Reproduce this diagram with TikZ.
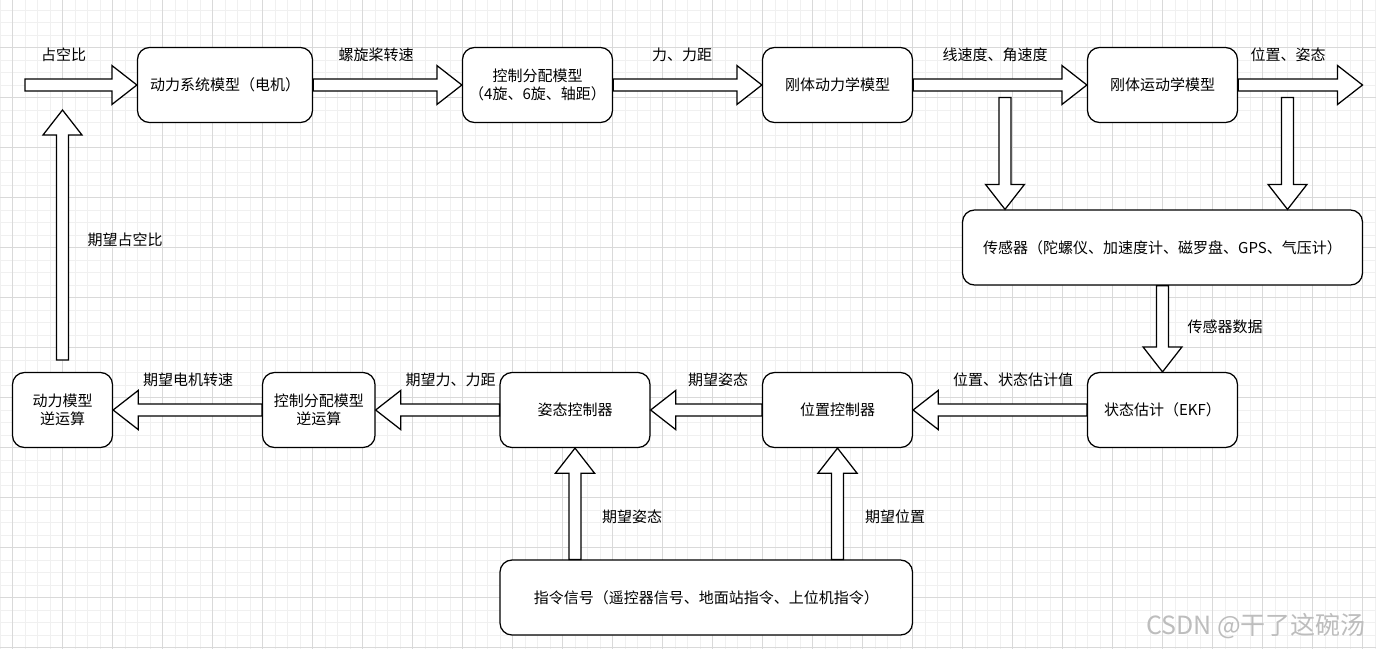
\documentclass[tikz,border=0pt]{standalone}
\usepackage{fontspec}
\setmainfont{Noto Sans CJK SC}
\usetikzlibrary{calc}
\definecolor{gridminor}{HTML}{F0F0F0}
\definecolor{gridmajor}{HTML}{D9D9D9}
\definecolor{wmgray}{HTML}{BDBDBD}
\begin{document}
\begin{tikzpicture}[x=1pt,y=-1pt,
  box/.style={draw=black, fill=white, line width=1.25pt, rounded corners=12pt,
    inner sep=0pt, align=center, font=\fontsize{15}{18.5}\selectfont},
  lbl/.style={inner sep=0pt, font=\fontsize{15}{18}\selectfont},
  blockarrow/.style={draw=black, fill=white, line width=1.25pt, line join=miter,
    to path={let \p1=(\tikztostart), \p2=(\tikztotarget), \p3=($(\p2)!25pt!(\p1)$) in
      ($(\p1)!6pt!90:(\p2)$) -- ($(\p3)!6pt!-90:(\p1)$) -- ($(\p3)!19.5pt!-90:(\p1)$)
      -- (\p2) -- ($(\p3)!19.5pt!90:(\p1)$) -- ($(\p3)!6pt!90:(\p1)$)
      -- ($(\p1)!6pt!-90:(\p2)$) -- cycle}}]
\useasboundingbox (0,0) rectangle (1376,649);
\fill[white] (0,0) rectangle (1376,649);
% grid
\foreach \k in {0,...,110} {\draw[gridminor, line width=1pt] ({12.5*\k},0) -- ({12.5*\k},649);}
\foreach \k in {0,...,51} {\draw[gridminor, line width=1pt] (0,{10+12.5*\k}) -- (1376,{10+12.5*\k});}
\foreach \k in {0,...,27} {\draw[gridmajor, line width=1pt] ({12.5+50*\k},0) -- ({12.5+50*\k},649);}
\foreach \k in {1,...,13} {\draw[gridmajor, line width=1pt] (0,{-2.5+50*\k}) -- (1376,{-2.5+50*\k});}

% boxes
\node[box, minimum width=175pt, minimum height=75pt] (m1) at (225,85) {动力系统模型（电机）};
\node[box, minimum width=150pt, minimum height=75pt] (m2) at (537.5,85) {控制分配模型\\（4旋、6旋、轴距）};
\node[box, minimum width=150pt, minimum height=75pt] (m3) at (837.5,85) {刚体动力学模型};
\node[box, minimum width=150pt, minimum height=75pt] (m4) at (1162.5,85) {刚体运动学模型};
\node[box, minimum width=400pt, minimum height=75pt] (sensor) at (1162.5,247.5) {传感器（陀螺仪、加速度计、磁罗盘、GPS、气压计）};
\node[box, minimum width=150pt, minimum height=75pt] (ekf) at (1162.5,410) {状态估计（EKF）};
\node[box, minimum width=150pt, minimum height=75pt] (pos) at (837.5,410) {位置控制器};
\node[box, minimum width=150pt, minimum height=75pt] (att) at (575,410) {姿态控制器};
\node[box, minimum width=112.5pt, minimum height=75pt] (inv2) at (318.75,410) {控制分配模型\\逆运算};
\node[box, minimum width=100pt, minimum height=75pt] (inv1) at (62.5,410) {动力模型\\逆运算};
\node[box, minimum width=412.5pt, minimum height=75pt] (cmd) at (706.25,597.5) {指令信号（遥控器信号、地面站指令、上位机指令）};

% free ends
\coordinate (in) at (25,85);
\coordinate (out) at (1362.5,85);
\coordinate (d1) at (1005,97.5);
\coordinate (d2) at (1287.5,97.5);
\coordinate (u0) at (62.5,360);
\coordinate (u1) at (62.5,110);

% block arrows
\draw[blockarrow] (in) to (m1.west);
\draw[blockarrow] (m1.east) to (m2.west);
\draw[blockarrow] (m2.east) to (m3.west);
\draw[blockarrow] (m3.east) to (m4.west);
\draw[blockarrow] (m4.east) to (out);
\draw[blockarrow] (d1) to (d1 |- sensor.north);
\draw[blockarrow] (d2) to (d2 |- sensor.north);
\draw[blockarrow] (ekf.north |- sensor.south) to (ekf.north);
\draw[blockarrow] (ekf.west) to (pos.east);
\draw[blockarrow] (pos.west) to (att.east);
\draw[blockarrow] (att.west) to (inv2.east);
\draw[blockarrow] (inv2.west) to (inv1.east);
\draw[blockarrow] (u0) to (u1);
\draw[blockarrow] (att.south |- cmd.north) to (att.south);
\draw[blockarrow] (pos.south |- cmd.north) to (pos.south);

% labels
\node[lbl] (l1) at (63.5,55) {占空比};
\node[lbl] (l2) at (376,55) {螺旋桨转速};
\node[lbl] (l3) at (682,55) {力、力距};
\node[lbl] (l4) at (995,55) {线速度、角速度};
\node[lbl] (l5) at (1288,55) {位置、姿态};
\node[lbl] (l6) at (1225,327) {传感器数据};
\node[lbl] (l7) at (1013,380) {位置、状态估计值};
\node[lbl] (l8) at (718,380) {期望姿态};
\node[lbl] (l9) at (450.5,380) {期望力、力距};
\node[lbl] (l10) at (188,380) {期望电机转速};
\node[lbl] (l11) at (125,240) {期望占空比};
\node[lbl] (l12) at (632,517) {期望姿态};
\node[lbl] (l13) at (895,517) {期望位置};

% watermark
\node[inner sep=0pt, text=wmgray, font=\fontsize{25}{27}\selectfont] (wm) at (1256,626) {CSDN @干了这碗汤};
\end{tikzpicture}
\end{document}
